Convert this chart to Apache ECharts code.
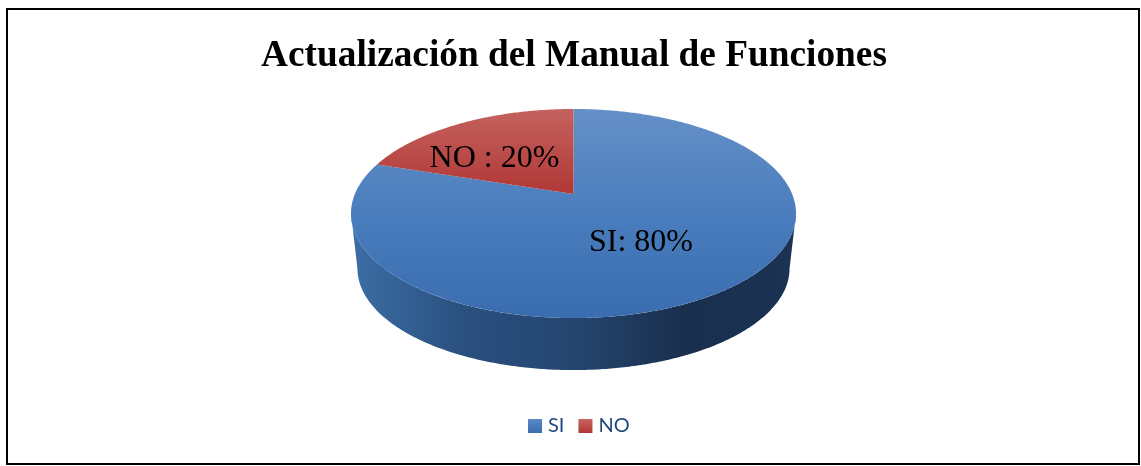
<!DOCTYPE html>
<html>
<head>
<meta charset="utf-8">
<title>Actualización del Manual de Funciones</title>
<style>
    html, body { margin: 0; padding: 0; background: #fff; }
    #chart { width: 1141px; height: 466px; }
</style>
<script src="https://cdn.jsdelivr.net/npm/echarts@6/dist/echarts.min.js"></script>
</head>
<body>
<div id="chart"></div>
<script>
const titleText = 'Actualización del Manual de Funciones';
const categories = ['SI', 'NO'];
const values = [80, 20];
const sliceLabels = ['SI: 80%', 'NO : 20%'];

const total = values.reduce((a, b) => a + b, 0);
// angle where each slice starts, clockwise from the top
const startAngles = [];
values.reduce((acc, v, i) => {
    startAngles[i] = acc / total * Math.PI * 2;
    return acc + v;
}, 0);

// perspective disc: top face and a slightly smaller bottom face
const cx = 573.5, cy = 194, bx = 218.6, ay = 100.9, k = 0.1866;
const bottomScale = 0.971, bottomCy = 249.6;
// where the disc is widest, the rim is visible between these two angles
const rimStart = Math.acos(-k), rimEnd = Math.PI * 2 - rimStart;

const project = (angle, scale, centerY) => {
    const u = Math.sin(angle), v = Math.cos(angle), w = 1 + k * v;
    return [cx + scale * bx * u / w, centerY - scale * ay * v / w];
};

const arcPoints = (from, to, scale, centerY) => {
    const n = Math.max(2, Math.ceil((to - from) / 0.01));
    const pts = [];
    for (let i = 0; i <= n; i++) pts.push(project(from + (to - from) * i / n, scale, centerY));
    return pts;
};

const grad = (x0, y0, x1, y1, stops, global) => new echarts.graphic.LinearGradient(
    x0, y0, x1, y1, stops.map((c, i) => ({ offset: i / (stops.length - 1), color: c })), global);

const topFills = [
    grad(0, 109, 0, 318, ['#6590C7', '#4A7DBD', '#3A6DAF'], true),
    grad(0, 109, 0, 194, ['#C4625F', '#B13836'], true)
];
const sideFill = grad(351, 0, 796, 0, ['#3C6EA5', '#2A5080', '#24466F', '#1A2F4E', '#1B3254'], true);
const legendFills = [
    grad(0, 0, 0, 1, ['#5B8AC6', '#3A6DAF'], false),
    grad(0, 0, 0, 1, ['#CB6360', '#B13836'], false)
];
const labelPos = [[641, 243], [494.5, 159]];

const renderSlice = function (params, api) {
    const i = params.seriesIndex;
    const from = startAngles[i];
    const to = from + api.value(0) / total * Math.PI * 2;
    const children = [];

    const rimFrom = Math.max(from, rimStart), rimTo = Math.min(to, rimEnd);
    if (rimTo > rimFrom) {
        const upper = arcPoints(rimFrom, rimTo, 1, cy);
        const lower = arcPoints(rimFrom, rimTo, bottomScale, bottomCy).reverse();
        children.push({
            type: 'polygon',
            shape: { points: upper.concat(lower) },
            style: { fill: sideFill }
        });
    }
    children.push({
        type: 'polygon',
        shape: { points: [[cx, cy]].concat(arcPoints(from, to, 1, cy)) },
        style: { fill: topFills[i] }
    });
    children.push({
        type: 'text',
        x: labelPos[i][0],
        y: labelPos[i][1],
        style: {
            text: sliceLabels[i],
            fill: '#000',
            font: '32px "Liberation Serif"',
            align: 'center',
            verticalAlign: 'middle'
        }
    });
    return { type: 'group', children: children };
};

const chart = echarts.init(document.getElementById('chart'));
chart.setOption({
    animation: false,
    title: {
        text: titleText,
        left: 574,
        top: 38,
        padding: 0,
        textAlign: 'center',
        textStyle: {
            fontFamily: 'Liberation Serif',
            fontWeight: 'bold',
            fontSize: 37.3,
            color: '#000'
        }
    },
    legend: {
        data: categories.map((name, i) => ({ name: name, icon: 'rect', itemStyle: { color: legendFills[i] } })),
        left: 528,
        top: 416,
        padding: 0,
        itemWidth: 14,
        itemHeight: 14,
        itemGap: 14,
        selectedMode: false,
        textStyle: { fontFamily: 'Lato', fontSize: 20, color: '#1F497D', padding: [0, 0, 0, 1] }
    },
    graphic: [{
        type: 'rect',
        shape: { x: 7, y: 9, width: 1132, height: 455 },
        style: { fill: 'none', stroke: '#000', lineWidth: 2 },
        silent: true
    }],
    series: categories.map((name, i) => ({
        type: 'custom',
        name: name,
        coordinateSystem: 'none',
        renderItem: renderSlice,
        itemStyle: { color: legendFills[i] },
        data: [[values[i]]]
    }))
});
</script>
</body>
</html>
